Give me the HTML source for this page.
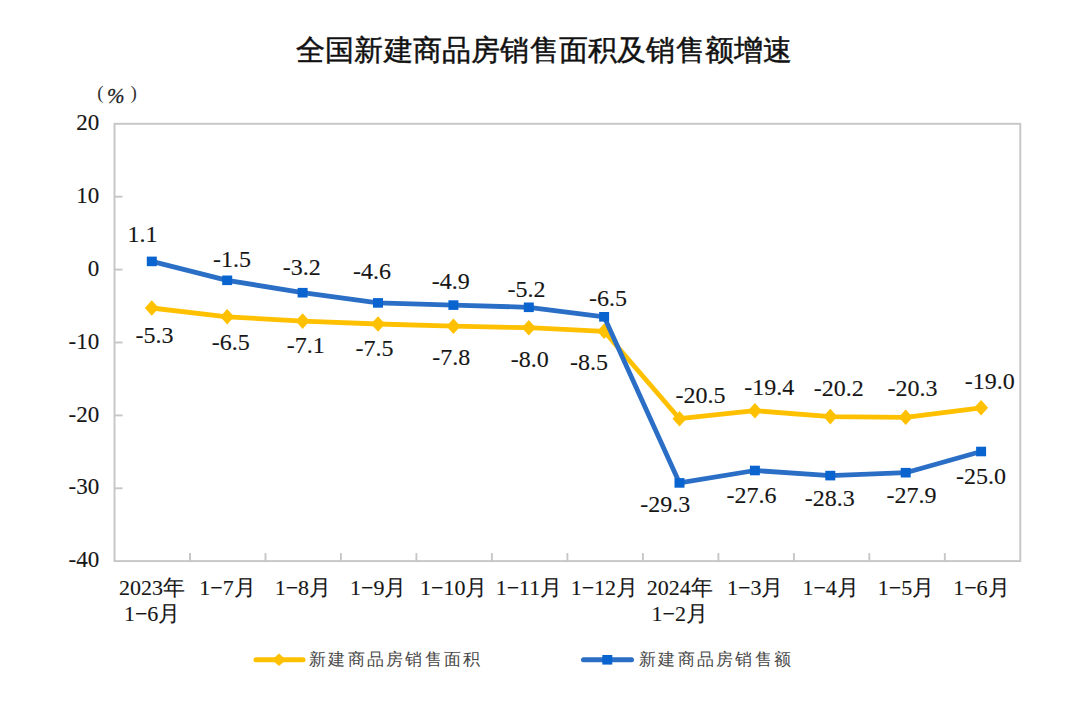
<!DOCTYPE html>
<html><head><meta charset="utf-8"><style>
html,body{margin:0;padding:0;background:#fff;width:1080px;height:716px;overflow:hidden}
svg{display:block}
text{font-family:"Liberation Serif",serif;fill:#161616;stroke:#161616;stroke-width:0.12px}
.tt{font-family:"Liberation Sans",sans-serif;font-size:29.3px;letter-spacing:0.2px;fill:#111;stroke:#111;stroke-width:0.45px}
.yl{font-size:23px}
.dl{font-size:24px}
.xl{font-size:22px}
.lg{font-size:17px;letter-spacing:2.25px;fill:#474747;stroke:none}
.pc{font-size:19px;fill:#333;stroke:none}
.pc2{font-size:21px;font-style:italic;fill:#222;stroke:#222;stroke-width:0.3px}
</style></head><body>
<svg width="1080" height="716" viewBox="0 0 1080 716">
<rect x="114.5" y="123.8" width="905.8" height="437.3" fill="none" stroke="#c6c6c6" stroke-width="1.9"/>
<line x1="114.5" y1="196.7" x2="122.5" y2="196.7" stroke="#c6c6c6" stroke-width="1.9"/>
<line x1="114.5" y1="269.6" x2="122.5" y2="269.6" stroke="#c6c6c6" stroke-width="1.9"/>
<line x1="114.5" y1="342.5" x2="122.5" y2="342.5" stroke="#c6c6c6" stroke-width="1.9"/>
<line x1="114.5" y1="415.4" x2="122.5" y2="415.4" stroke="#c6c6c6" stroke-width="1.9"/>
<line x1="114.5" y1="488.3" x2="122.5" y2="488.3" stroke="#c6c6c6" stroke-width="1.9"/>
<line x1="190.0" y1="561.1" x2="190.0" y2="553.1" stroke="#c6c6c6" stroke-width="1.9"/>
<line x1="265.5" y1="561.1" x2="265.5" y2="553.1" stroke="#c6c6c6" stroke-width="1.9"/>
<line x1="340.9" y1="561.1" x2="340.9" y2="553.1" stroke="#c6c6c6" stroke-width="1.9"/>
<line x1="416.4" y1="561.1" x2="416.4" y2="553.1" stroke="#c6c6c6" stroke-width="1.9"/>
<line x1="491.9" y1="561.1" x2="491.9" y2="553.1" stroke="#c6c6c6" stroke-width="1.9"/>
<line x1="567.4" y1="561.1" x2="567.4" y2="553.1" stroke="#c6c6c6" stroke-width="1.9"/>
<line x1="642.9" y1="561.1" x2="642.9" y2="553.1" stroke="#c6c6c6" stroke-width="1.9"/>
<line x1="718.4" y1="561.1" x2="718.4" y2="553.1" stroke="#c6c6c6" stroke-width="1.9"/>
<line x1="793.9" y1="561.1" x2="793.9" y2="553.1" stroke="#c6c6c6" stroke-width="1.9"/>
<line x1="869.3" y1="561.1" x2="869.3" y2="553.1" stroke="#c6c6c6" stroke-width="1.9"/>
<line x1="944.8" y1="561.1" x2="944.8" y2="553.1" stroke="#c6c6c6" stroke-width="1.9"/>
<polyline points="151.8,308.0 227.2,316.8 302.6,321.1 378.0,324.0 453.4,326.2 528.8,327.7 604.1,331.3 679.5,418.7 754.9,410.7 830.3,416.6 905.7,417.3 981.1,407.8" fill="none" stroke="#ffc000" stroke-width="4.8" stroke-linejoin="round"/>
<path d="M144.8,308.0 L151.8,300.2 L158.8,308.0 L151.8,315.8Z" fill="#ffc000"/>
<path d="M220.2,316.8 L227.2,309.0 L234.2,316.8 L227.2,324.6Z" fill="#ffc000"/>
<path d="M295.6,321.1 L302.6,313.3 L309.6,321.1 L302.6,328.9Z" fill="#ffc000"/>
<path d="M371.0,324.0 L378.0,316.2 L385.0,324.0 L378.0,331.8Z" fill="#ffc000"/>
<path d="M446.4,326.2 L453.4,318.4 L460.4,326.2 L453.4,334.0Z" fill="#ffc000"/>
<path d="M521.8,327.7 L528.8,319.9 L535.8,327.7 L528.8,335.5Z" fill="#ffc000"/>
<path d="M597.1,331.3 L604.1,323.5 L611.1,331.3 L604.1,339.1Z" fill="#ffc000"/>
<path d="M672.5,418.7 L679.5,410.9 L686.5,418.7 L679.5,426.5Z" fill="#ffc000"/>
<path d="M747.9,410.7 L754.9,402.9 L761.9,410.7 L754.9,418.5Z" fill="#ffc000"/>
<path d="M823.3,416.6 L830.3,408.8 L837.3,416.6 L830.3,424.4Z" fill="#ffc000"/>
<path d="M898.7,417.3 L905.7,409.5 L912.7,417.3 L905.7,425.1Z" fill="#ffc000"/>
<path d="M974.1,407.8 L981.1,400.0 L988.1,407.8 L981.1,415.6Z" fill="#ffc000"/>
<polyline points="151.8,261.4 227.2,280.3 302.6,292.7 378.0,302.9 453.4,305.1 528.8,307.3 604.1,316.8 679.5,482.9 754.9,470.5 830.3,475.6 905.7,472.7 981.1,451.5" fill="none" stroke="#2a6ec6" stroke-width="4.8" stroke-linejoin="round"/>
<rect x="146.8" y="256.6" width="10" height="9.6" fill="#0a64cf"/>
<rect x="222.2" y="275.5" width="10" height="9.6" fill="#0a64cf"/>
<rect x="297.6" y="287.9" width="10" height="9.6" fill="#0a64cf"/>
<rect x="373.0" y="298.1" width="10" height="9.6" fill="#0a64cf"/>
<rect x="448.4" y="300.3" width="10" height="9.6" fill="#0a64cf"/>
<rect x="523.8" y="302.5" width="10" height="9.6" fill="#0a64cf"/>
<rect x="599.1" y="312.0" width="10" height="9.6" fill="#0a64cf"/>
<rect x="674.5" y="478.1" width="10" height="9.6" fill="#0a64cf"/>
<rect x="749.9" y="465.7" width="10" height="9.6" fill="#0a64cf"/>
<rect x="825.3" y="470.8" width="10" height="9.6" fill="#0a64cf"/>
<rect x="900.7" y="467.9" width="10" height="9.6" fill="#0a64cf"/>
<rect x="976.1" y="446.7" width="10" height="9.6" fill="#0a64cf"/>
<line x1="256" y1="659.8" x2="303" y2="659.8" stroke="#ffc000" stroke-width="5" stroke-linecap="round"/>
<path d="M272,659.8 L279,653.5 L286,659.8 L279,666 Z" fill="#ffc000"/>
<line x1="583.5" y1="659.8" x2="631.5" y2="659.8" stroke="#2a6ec6" stroke-width="5" stroke-linecap="round"/>
<rect x="602.3" y="655" width="10" height="9.6" fill="#0a64cf"/>
<text x="135.5" y="342.7" class="dl">-5.3</text>
<text x="211.7" y="350.0" class="dl">-6.5</text>
<text x="286.7" y="353.3" class="dl">-7.1</text>
<text x="355.4" y="356.1" class="dl">-7.5</text>
<text x="432.3" y="365.0" class="dl">-7.8</text>
<text x="510.8" y="366.8" class="dl">-8.0</text>
<text x="570.1" y="369.6" class="dl">-8.5</text>
<text x="675.4" y="402.8" class="dl">-20.5</text>
<text x="744.2" y="395.0" class="dl">-19.4</text>
<text x="813.7" y="396.3" class="dl">-20.2</text>
<text x="887.6" y="396.3" class="dl">-20.3</text>
<text x="964.7" y="389.4" class="dl">-19.0</text>
<text x="127.4" y="242.1" class="dl">1.1</text>
<text x="213.0" y="267.2" class="dl">-1.5</text>
<text x="282.8" y="275.0" class="dl">-3.2</text>
<text x="352.9" y="279.4" class="dl">-4.6</text>
<text x="431.7" y="289.0" class="dl">-4.9</text>
<text x="507.4" y="296.8" class="dl">-5.2</text>
<text x="588.9" y="305.7" class="dl">-6.5</text>
<text x="640.2" y="512.3" class="dl">-29.3</text>
<text x="726.5" y="503.1" class="dl">-27.6</text>
<text x="804.8" y="505.9" class="dl">-28.3</text>
<text x="886.5" y="503.1" class="dl">-27.9</text>
<text x="956.1" y="484.4" class="dl">-25.0</text>
<text x="99.2" y="130.2" text-anchor="end" class="yl">20</text>
<text x="99.2" y="203.0" text-anchor="end" class="yl">10</text>
<text x="99.2" y="275.9" text-anchor="end" class="yl">0</text>
<text x="99.2" y="348.8" text-anchor="end" class="yl">-10</text>
<text x="99.2" y="421.6" text-anchor="end" class="yl">-20</text>
<text x="99.2" y="494.4" text-anchor="end" class="yl">-30</text>
<text x="99.2" y="567.3" text-anchor="end" class="yl">-40</text>
<text x="152.1" y="595.0" text-anchor="middle" class="xl">2023年</text>
<text x="227.5" y="595.0" text-anchor="middle" class="xl">1−7月</text>
<text x="302.9" y="595.0" text-anchor="middle" class="xl">1−8月</text>
<text x="378.3" y="595.0" text-anchor="middle" class="xl">1−9月</text>
<text x="453.7" y="595.0" text-anchor="middle" class="xl">1−10月</text>
<text x="529.0" y="595.0" text-anchor="middle" class="xl">1−11月</text>
<text x="604.4" y="595.0" text-anchor="middle" class="xl">1−12月</text>
<text x="679.8" y="595.0" text-anchor="middle" class="xl">2024年</text>
<text x="755.2" y="595.0" text-anchor="middle" class="xl">1−3月</text>
<text x="830.6" y="595.0" text-anchor="middle" class="xl">1−4月</text>
<text x="906.0" y="595.0" text-anchor="middle" class="xl">1−5月</text>
<text x="981.4" y="595.0" text-anchor="middle" class="xl">1−6月</text>
<text x="152.1" y="620.5" text-anchor="middle" class="xl">1−6月</text>
<text x="679.8" y="620.5" text-anchor="middle" class="xl">1−2月</text>
<text x="309.0" y="665.0" class="lg">新建商品房销售面积</text>
<text x="639.0" y="665.0" class="lg">新建商品房销售额</text>
<text x="296.0" y="60.0" class="tt">全国新建商品房销售面积及销售额增速</text>
<text x="97.2" y="99.0" class="pc">(</text>
<text x="107.0" y="102.5" class="pc2">%</text>
<text x="130.5" y="99.0" class="pc">)</text>
</svg>
</body></html>
